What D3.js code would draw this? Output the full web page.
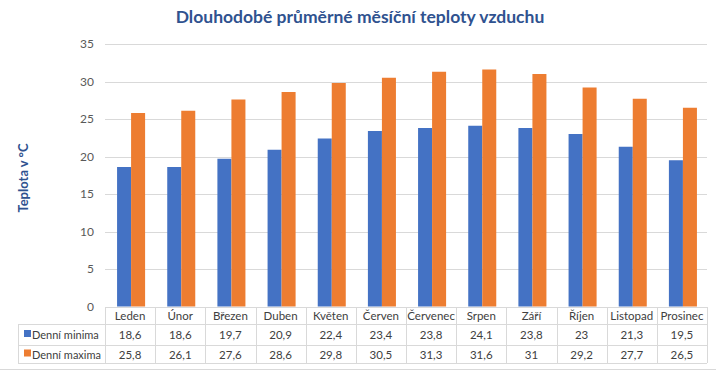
<!DOCTYPE html>
<html>
<head>
<meta charset="utf-8">
<script src="https://cdn.jsdelivr.net/npm/d3@7"></script>
<style>
  html, body { margin: 0; padding: 0; background: #fff; }
  svg { display: block; font-family: Lato, "Open Sans", sans-serif; }
</style>
</head>
<body>
<svg id="chart" width="716" height="371"></svg>
<script>
const months = ["Leden","Únor","Březen","Duben","Květen","Červen","Červenec","Srpen","Září","Říjen","Listopad","Prosinec"];
const seriesNames = ["Denní minima","Denní maxima"];
const minima = [18.6,18.6,19.7,20.9,22.4,23.4,23.8,24.1,23.8,23,21.3,19.5];
const maxima = [25.8,26.1,27.6,28.6,29.8,30.5,31.3,31.6,31,29.2,27.7,26.5];
const yTicks = [0,5,10,15,20,25,30,35];
const colors = ["#4472C4","#ED7D31"];
const chartTitle = "Dlouhodobé průměrné měsíční teploty vzduchu";
const yTitle = "Teplota v °C";

(function () {
const series = [minima, maxima];
const svg = d3.select("#chart");

const pLeft = 105, pRight = 707, pTop = 44, pBottom = 306.5;
const x = d3.scaleBand().domain(months).range([pLeft, pRight]).paddingInner(0).paddingOuter(0);
const xs = d3.scaleBand().domain(seriesNames).range([1, x.bandwidth() + 1]).paddingInner(0).paddingOuter(0.79);
const y = d3.scaleLinear().domain([0, 35]).range([pBottom, pTop]);

// gridlines
svg.append("g").selectAll("line").data(yTicks).join("line")
  .attr("x1", pLeft).attr("x2", pRight)
  .attr("y1", d => Math.round(y(d)) + 0.5).attr("y2", d => Math.round(y(d)) + 0.5)
  .attr("stroke", "#D9D9D9").attr("stroke-width", 1);

// y axis labels
const yAxis = d3.axisLeft(y).tickValues(yTicks).tickSize(0).tickPadding(11);
const ya = svg.append("g").attr("transform", `translate(${pLeft},0)`).call(yAxis);
ya.select(".domain").remove();
ya.selectAll("text").attr("font-size", 12).attr("fill", "#595959").style("font-family", "Lato, sans-serif");

// bars
series.forEach((vals, si) => {
  svg.append("g").selectAll("rect").data(vals).join("rect")
    .attr("x", (d, i) => x(months[i]) + xs(seriesNames[si]))
    .attr("width", xs.bandwidth())
    .attr("y", d => y(d))
    .attr("height", d => y(0) - y(d))
    .attr("fill", colors[si]);
});

// title
svg.append("text").attr("x", 360).attr("y", 23).attr("text-anchor", "middle")
  .attr("font-size", 17.5).attr("font-weight", "bold").attr("fill", "#2F528F").text(chartTitle);

// y title
svg.append("text").attr("transform", "translate(28,178) rotate(-90)").attr("text-anchor", "middle")
  .attr("font-size", 13).attr("font-weight", "bold").attr("fill", "#2F528F").text(yTitle);

// data table
const tableLeft = 18;
const rowsY = [307, 324, 345, 363];
const g = svg.append("g");
const lineColor = "#D9D9D9";
g.append("line").attr("x1", pLeft).attr("x2", pRight).attr("y1", rowsY[0]+0.5).attr("y2", rowsY[0]+0.5).attr("stroke", lineColor);
rowsY.slice(1).forEach(yy => g.append("line").attr("x1", tableLeft).attr("x2", pRight).attr("y1", yy+0.5).attr("y2", yy+0.5).attr("stroke", lineColor));
g.append("line").attr("x1", tableLeft+0.5).attr("x2", tableLeft+0.5).attr("y1", rowsY[1]).attr("y2", rowsY[3]).attr("stroke", lineColor);
const vx = months.map(m => x(m)).concat([pRight]);
vx.forEach(xx => g.append("line").attr("x1", Math.round(xx)+0.5).attr("x2", Math.round(xx)+0.5).attr("y1", rowsY[0]).attr("y2", rowsY[3]).attr("stroke", lineColor));

g.selectAll("text.hdr").data(months).join("text").attr("class", "hdr")
  .attr("x", d => x(d) + x.bandwidth()/2).attr("y", (rowsY[0]+rowsY[1])/2 + 4.5)
  .attr("text-anchor", "middle").attr("font-size", 11.5).attr("fill", "#404040").text(d => d);

const fmt = v => String(v).replace(".", ",");
series.forEach((vals, si) => {
  const cy = (rowsY[si+1] + rowsY[si+2]) / 2 + 4.5;
  g.append("rect").attr("x", 24).attr("y", cy - 9).attr("width", 7).attr("height", 7).attr("fill", colors[si]);
  g.append("text").attr("x", 32).attr("y", cy).attr("font-size", 11).attr("fill", "#404040").text(seriesNames[si]);
  g.selectAll("text.v" + si).data(vals).join("text").attr("class", "v" + si)
    .attr("x", (d, i) => x(months[i]) + x.bandwidth()/2).attr("y", cy)
    .attr("text-anchor", "middle").attr("font-size", 11.5).attr("fill", "#404040").text(d => fmt(d));
});

svg.append("line").attr("x1", 0).attr("x2", 716).attr("y1", 369.5).attr("y2", 369.5).attr("stroke", "#D9D9D9");
})();
</script>
</body>
</html>
